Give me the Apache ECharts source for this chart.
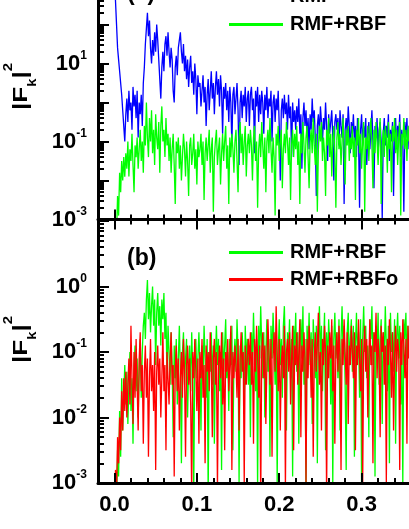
<!DOCTYPE html>
<html>
<head>
<meta charset="utf-8">
<title>|Fk|^2 spectra</title>
<script src="https://cdn.jsdelivr.net/npm/echarts@6.0.0/dist/echarts.min.js"></script>
<style>
    html, body { margin: 0; padding: 0; background: #fff; }
    #main { width: 409px; height: 529px; }
</style>
</head>
<body>
<div id="main"></div>
<script type="text/javascript">
    // sampling step of the frequency axis
    var freqStep = 0.00125;

    // log10 |F_k|^2, panel (a)
    var rmfA = [3.2, 2.6, 2.0, 1.4, 1.1, 0.8, 0.5, 0.2, -0.2, -0.6, -1.0,
        -0.3, 0.1, -0.5, 0.3, -0.2, 0.0, -0.7, 0.4, -0.1, 0.2, -0.4, 0.3, -0.9, 0.0, -0.3, 0.2, -0.6, 0.5,
        0.9, 1.5, 1.9, 2.3, 1.7, 2.1, 1.4, 1.0, 1.6, 1.2, 1.8, 1.3, 2.0, 1.6, 1.1, 0.6, 0.1, 0.9, 1.3, 0.8, 1.5, 1.7, 1.2, 1.8,
        1.3, 0.9, 1.4, 1.1, 0.3, 0.0, 0.9, 1.2, 0.7, 1.4, 1.6, 1.8, 1.3, 1.0, 1.5, 0.8, 1.2, 0.6, 1.1, 0.4,
        0.9, 1.2, 0.5, 0.8, 0.2, 1.0, 0.6, -0.3, 0.7, 0.4,
        0.5, -0.1, 0.3, 0.7, 0.0, 0.4, -0.6, 0.2, 0.6, -0.2, 0.3, 0.8, 0.1, 0.5, -0.3, 0.4, 0.8, 0.2, 0.6, -0.1,
        0.7, 0.3, -0.8, 0.4, 0.1, 0.5, -0.2, 0.3, -0.5, 0.4, 0.0, -1.1, 0.2, 0.4, -0.3, 0.1, 0.5, -0.2, -1.6, 0.0,
        0.3, -0.4, 0.2, -0.1, 0.4, -0.5, 0.1, 0.3,
        -0.6, 0.2, 0.4, -0.2, 0.1, -1.3, 0.3, -0.1, 0.4, -0.5, 0.2, -0.3, 0.3, 0.0, -0.8, 0.2, -0.2, 0.4, -0.4, 0.1,
        -0.1, 0.3, -1.0, 0.0, 0.2, -0.5, 0.1, -0.2, 0.3, -0.6, -2.0, -0.2, 0.1, -0.4, 0.2, -0.3, 0.0, -0.7, 0.2, -0.4,
        -0.1, -1.4, 0.0, -0.5, -0.2,
        -0.7, -0.1, -0.5, 0.1, -0.8, -0.3, -1.7, -0.4, 0.0, -0.6, -0.2, -0.9, -0.4, -1.2, -0.3, -0.7, 0.1, -0.5, -0.2, -0.9,
        -2.4, -0.6, -0.3, -0.8, -0.1, -0.5, -1.0, -0.4, -0.7, 0.0, -0.6, -1.5, -0.3, -0.8, -0.5, -0.2, -0.9, -2.0, -0.5, -0.3,
        -0.7, -0.4, -1.1, -0.2, -0.6, -0.9, -0.3, -2.6, -0.7, -0.4, -0.8, -0.1, -0.6, -1.3, -0.5,
        -0.8, -0.3, -1.0, -0.6, -1.4, -0.4, -0.9, -2.7, -0.7, -0.3, -1.1, -0.6, -0.9, -0.4, -1.6, -0.8, -0.5, -1.2, -0.7, -0.2,
        -1.0, -2.2, -0.6, -0.9, -0.4, -1.3, -0.7, -0.5, -1.0, -3.0, -0.8, -0.4, -1.1, -0.6, -0.9, -0.3, -1.5, -0.7, -1.0, -0.5,
        -2.4, -0.8, -0.4, -1.2, -0.6, -0.9, -0.3, -1.4, -0.7, -1.0, -2.8, -0.5, -0.9, -0.4, -1.2, -0.6, -0.8,
        -0.5, -1.1, -0.4, -0.9, -0.6, -1.3];
    var rbfA = [-3.5, -3.0, -3.4, -2.4, -2.9, -1.8, -2.3, -1.5, -2.0, -1.4, -1.9,
        -1.3, -1.7, -1.0, -1.9, -1.2, -1.5, -0.8, -1.6, -2.3, -1.1, -1.4, -0.9, -1.7, -1.2, -0.7, -1.5, -1.0, -1.8,
        -0.6, -1.1, 0.0, -0.9, -1.4, -0.4, -1.0, -0.2, -1.3, -0.7, -1.6, -0.3, -0.9, -1.2, -0.5, -1.8, -0.6, -0.1, -1.0, -0.7,
        -1.4, -0.4, -1.1, -0.8,
        -1.5, -0.9, -1.8, -1.2, -0.8, -1.6, -2.6, -1.0, -1.3, -0.9, -1.7, -1.1, -2.0, -1.4, -0.8, -1.2, -1.9, -1.0, -1.5, -2.4,
        -1.1, -0.9, -1.6, -1.3, -0.8, -1.7, -1.2, -2.1, -1.0, -1.4,
        -1.2, -0.8, -1.6, -1.0, -2.5, -1.3, -0.9, -1.5, -1.1, -0.7, -1.8, -1.2, -0.9, -2.8, -1.4, -1.0, -0.7, -1.6, -1.2, -0.9,
        -2.1, -1.3, -0.8, -1.5, -1.0, -0.6, -1.7, -1.1, -2.6, -0.9, -1.4, -0.8, -1.2, -1.8, -1.0, -0.7, -1.5, -2.3, -0.9, -0.5,
        -1.3, -0.8, -1.6, -1.0, -0.6, -1.9, -1.1, -0.8,
        -1.3, -0.7, -1.1, -2.0, -0.9, -0.6, -1.5, -1.0, -2.7, -1.2, -0.8, -1.4, -0.5, -1.1, -1.7, -0.9, -2.3, -1.0, -0.7, -1.3,
        -0.4, -1.2, -1.8, -0.9, -1.4, -2.9, -0.8, -1.1, -0.6, -1.5, -1.0, -0.7, -2.2, -1.2, -0.8, -1.3, -0.5, -1.0, -1.6, -0.9,
        -2.5, -1.1, -0.7, -1.4, -0.8,
        -1.2, -0.6, -1.6, -1.0, -2.6, -0.8, -1.3, -0.5, -1.1, -1.8, -0.9, -0.6, -1.4, -2.2, -1.0, -0.7, -1.3, -0.4, -1.1, -1.6,
        -0.8, -2.8, -1.2, -0.6, -1.0, -0.5, -1.5, -0.9, -1.3, -2.4, -0.7, -1.1, -0.4, -1.4, -0.8, -1.9, -1.0, -0.6, -1.3, -2.7,
        -0.9, -0.5, -1.2, -0.8, -1.6, -1.0, -0.4, -1.3, -2.1, -0.7, -1.1, -0.6, -1.5, -0.9, -1.2,
        -0.6, -1.4, -0.9, -2.5, -0.7, -1.1, -0.4, -1.3, -0.8, -1.7, -1.0, -0.5, -2.8, -0.9, -1.2, -0.6, -1.5, -0.8, -0.4, -1.1,
        -2.2, -0.7, -1.3, -0.5, -1.0, -1.6, -0.8, -0.4, -2.6, -1.1, -0.7, -1.4, -0.6, -0.9, -1.8, -0.5, -1.2, -0.8, -2.3, -0.6,
        -1.0, -0.4, -1.3, -0.7, -1.6, -0.9, -0.5, -2.9, -0.8, -1.1, -0.4, -1.2, -0.7, -1.5, -0.6, -1.0, -0.8,
        -1.2, -0.6, -1.9, -0.9, -0.5, -1.3];

    // log10 |F_k|^2, panel (b)
    var rbfB = [-3.5, -3.1, -3.4, -2.5, -2.9, -1.9, -2.6, -1.4, -2.2, -1.7, -1.2,
        -1.8, -1.3, -2.1, -1.5, -1.0, -1.9, -1.4, -2.4, -1.2, -0.9, -1.6, -1.1, -2.0, -1.3, -0.8, -1.7, -1.0, -0.6,
        -0.4, -0.8, -0.2, 0.1, -0.5, -0.1, -0.7, -0.3, 0.0, -0.6, -0.2, -1.2, -0.4, -0.1, -0.6, -0.3, -0.9, -0.2, -0.5, -0.1,
        -0.8, -0.4, -1.4, -0.6,
        -1.0, -1.5, -0.7, -1.2, -2.3, -0.9, -1.4, -0.8, -1.8, -1.1, -0.6, -1.3, -2.7, -1.0, -0.7, -1.5, -1.1, -0.8, -2.0, -1.2,
        -0.9, -1.6, -0.7, -1.3, -3.1, -1.0, -0.8, -1.4, -1.1, -0.7,
        -1.2, -2.2, -0.9, -1.4, -0.6, -1.1, -1.7, -0.8, -3.2, -1.0, -1.3, -0.7, -1.5, -0.9, -2.4, -1.1, -0.6, -1.2, -0.8, -1.6,
        -1.0, -2.8, -0.7, -1.3, -0.9, -0.5, -1.4, -1.0, -1.9, -0.8, -1.2, -0.6, -2.5, -1.1, -0.8, -1.3, -0.5, -1.0, -3.0, -0.9,
        -1.4, -0.7, -1.1, -1.8, -0.6, -1.2, -0.8, -1.5,
        -0.9, -2.3, -0.7, -1.2, -0.4, -1.0, -1.6, -0.8, -3.1, -0.6, -1.1, -0.3, -0.9, -1.4, -0.7, -2.0, -1.0, -0.5, -1.3, -0.8,
        -2.6, -0.6, -1.1, -0.4, -0.9, -1.5, -0.7, -3.0, -1.0, -0.5, -1.2, -0.8, -1.7, -0.6, -0.3, -1.1, -2.2, -0.7, -1.0, -0.5,
        -1.4, -0.8, -2.9, -0.6, -1.0,
        -0.4, -1.3, -0.7, -2.4, -0.9, -0.5, -1.1, -0.3, -1.5, -0.8, -3.2, -0.6, -1.0, -0.4, -1.2, -0.7, -2.1, -0.5, -0.9, -1.4,
        -0.6, -2.7, -0.8, -0.3, -1.1, -0.6, -1.6, -0.9, -0.4, -2.5, -0.7, -1.2, -0.5, -0.9, -1.8, -0.6, -3.0, -0.8, -0.4, -1.1,
        -0.7, -1.4, -0.5, -2.2, -0.8, -0.3, -1.0, -0.6, -1.5, -2.8, -0.7, -0.4, -1.2, -0.8, -0.5,
        -1.3, -0.6, -2.6, -0.9, -0.4, -1.1, -0.7, -1.7, -0.5, -3.1, -0.8, -0.3, -1.0, -0.6, -1.4, -0.9, -2.3, -0.5, -0.8, -0.3,
        -1.2, -0.7, -2.9, -0.6, -1.0, -0.4, -1.5, -0.8, -0.5, -2.1, -0.7, -1.1, -0.3, -0.9, -1.6, -0.6, -2.7, -0.4, -1.0, -0.7,
        -1.3, -0.5, -2.4, -0.8, -0.4, -1.1, -0.6, -1.8, -0.9, -3.0, -0.5, -0.8, -0.4, -1.2, -0.6, -1.0, -0.5,
        -0.9, -1.4, -0.6, -2.2, -0.7, -1.1];
    var rbfoB = [-3.4, -2.8, -3.2, -2.3, -2.7, -2.0, -2.5, -1.6, -2.2, -1.4, -1.9,
        -1.3, -2.0, -1.5, -1.1, -1.8, -0.6, -1.4, -2.1, -1.0, -1.7, -0.8, -1.5, -2.2, -1.1, -0.7, -1.6, -1.2, -2.4,
        -1.3, -0.9, -1.7, -1.1, -2.6, -1.4, -0.8, -1.6, -1.2, -1.9, -1.0, -2.8, -1.3, -0.9, -1.5, -1.1, -2.0, -1.4, -0.7, -1.6,
        -1.2, -2.5, -1.0, -1.4,
        -1.8, -1.1, -0.7, -1.5, -1.2, -2.9, -1.3, -0.9, -1.6, -1.1, -2.2, -1.4, -1.0, -1.7, -0.8, -1.3, -2.6, -1.2, -0.9, -1.5,
        -1.1, -1.8, -3.2, -1.0, -1.4, -0.8, -1.3, -1.9, -1.1, -2.4,
        -1.0, -1.4, -0.8, -1.7, -1.2, -2.7, -0.9, -1.3, -1.0, -1.6, -0.7, -1.2, -2.3, -1.1, -0.8, -1.5, -1.0, -3.1, -1.2, -0.9,
        -1.4, -0.7, -1.8, -1.1, -2.5, -1.0, -1.3, -0.8, -1.6, -1.2, -0.6, -2.8, -1.0, -1.4, -0.9, -1.2, -1.7, -0.8, -2.2, -1.1,
        -0.7, -1.3, -1.0, -3.0, -0.9, -1.5, -1.1, -0.8,
        -1.2, -0.7, -1.5, -1.0, -2.4, -0.8, -1.3, -0.6, -1.1, -1.7, -0.9, -3.3, -1.0, -0.7, -1.4, -0.9, -2.1, -1.2, -0.5, -1.0,
        -1.5, -0.8, -2.6, -1.1, -0.7, -1.3, -0.3, -1.0, -1.6, -0.8, -2.2, -1.2, -0.9, -1.4, -0.6, -3.1, -1.0, -0.8, -1.3, -0.7,
        -1.8, -1.1, -0.6, -2.5, -0.9,
        -1.2, -0.7, -1.5, -1.0, -0.5, -2.3, -0.9, -1.3, -0.7, -1.1, -3.0, -0.8, -1.4, -0.6, -1.0, -1.7, -0.8, -2.6, -1.1, -0.7,
        -1.3, -0.9, -0.4, -1.5, -1.0, -2.2, -0.8, -1.2, -0.6, -1.0, -3.2, -0.9, -1.4, -0.7, -1.1, -0.5, -1.6, -0.9, -2.4, -1.0,
        -0.7, -1.3, -0.6, -1.1, -2.8, -0.8, -1.2, -0.5, -1.0, -1.5, -0.7, -2.1, -0.9, -1.2, -0.6,
        -1.0, -1.4, -0.7, -2.5, -0.9, -1.2, -0.5, -1.1, -1.6, -0.8, -3.1, -1.0, -0.6, -1.3, -0.8, -2.0, -1.1, -0.5, -1.2, -0.9,
        -2.7, -0.7, -1.0, -0.4, -1.4, -0.8, -1.1, -2.3, -0.6, -1.0, -0.7, -1.5, -0.9, -3.0, -0.8, -1.2, -0.5, -1.0, -1.7, -0.7,
        -2.2, -1.1, -0.6, -1.3, -0.8, -1.0, -2.8, -0.7, -1.2, -0.5, -0.9, -1.4, -0.8, -2.4, -0.6, -1.1, -0.9,
        -1.3, -0.7, -2.0, -1.0, -0.6, -1.2];

    var xTickValues = [0, 0.1, 0.2, 0.3, 0.4];
    var decadesA = [1e-3, 1e-2, 1e-1, 1e0, 1e1, 1e2, 1e3];
    var labelsA = [1e-3, 1e-1, 1e1];
    var decadesB = [1e-3, 1e-2, 1e-1, 1e0, 1e1];
    var labelsB = [1e-3, 1e-2, 1e-1, 1e0];

    var FONT = '"Liberation Sans", Arial, sans-serif';

    function toPoints(arr) {
        return arr.map(function (e, i) {
            return [i * freqStep, Math.pow(10, e)];
        });
    }

    // 2..9 x 10^k between the decades
    function minorLog(decades) {
        var out = [];
        for (var i = 0; i < decades.length - 1; i++) {
            for (var m = 2; m < 10; m++) out.push(m * decades[i]);
        }
        return out;
    }

    function logLabel(v) {
        return '{b|10}{s|' + Math.round(Math.log10(v)) + '}';
    }

    var labelRich = {
        b: { fontSize: 22, fontWeight: 'bold', fontFamily: FONT, color: '#000', lineHeight: 28 },
        s: { fontSize: 12, fontWeight: 'bold', fontFamily: FONT, color: '#000', lineHeight: 14, verticalAlign: 'top' }
    };

    function xBase(grid, extra) {
        var a = {
            type: 'value', gridIndex: grid, min: -0.02, max: 0.4, position: 'bottom', z: 10,
            splitLine: { show: false },
            axisLine: { show: false, onZero: false, lineStyle: { color: '#000', width: 3 } },
            axisTick: { show: false },
            axisLabel: { show: false }
        };
        return Object.assign(a, extra);
    }

    function yBase(grid, max, extra) {
        var a = {
            type: 'log', logBase: 10, gridIndex: grid, min: 1e-3, max: max, position: 'left', z: 10,
            splitLine: { show: false },
            axisLine: { show: false, onZero: false, lineStyle: { color: '#000', width: 3 } },
            axisTick: { show: false },
            axisLabel: { show: false }
        };
        return Object.assign(a, extra);
    }

    var tickStyle = { color: '#000', width: 2 };

    var myChart = echarts.init(document.getElementById('main'), null, { renderer: 'canvas' });

    var option = {
        animation: false,
        backgroundColor: '#fff',
        grid: [
            { left: 98, width: 346, top: -14.5, height: 234, outerBoundsMode: 'none', containLabel: false },
            { left: 98, width: 346, top: 221, height: 262, outerBoundsMode: 'none', containLabel: false }
        ],
        xAxis: [
            xBase(0, { axisLine: { show: true, onZero: false, lineStyle: { color: '#000', width: 3 } } }),
            xBase(0, { offset: 5, interval: 0.02, axisTick: { show: true, inside: true, length: 10, lineStyle: tickStyle } }),
            xBase(0, { offset: 10, axisTick: { show: true, inside: true, length: 20, customValues: xTickValues, lineStyle: tickStyle } }),
            xBase(1, {
                axisLine: { show: true, onZero: false, lineStyle: { color: '#000', width: 3 } },
                axisTick: { show: true, inside: true, length: 10, customValues: xTickValues, lineStyle: tickStyle },
                axisLabel: {
                    show: true, customValues: xTickValues, margin: 11,
                    fontSize: 22, fontWeight: 'bold', fontFamily: FONT, color: '#000',
                    formatter: function (v) { return v.toFixed(1); }
                }
            }),
            xBase(1, { interval: 0.02, axisTick: { show: true, inside: true, length: 5, lineStyle: tickStyle } })
        ],
        yAxis: [
            yBase(0, 1e3, {
                axisLine: { show: true, onZero: false, lineStyle: { color: '#000', width: 3 } },
                axisTick: { show: true, inside: true, length: 11, customValues: decadesA, lineStyle: tickStyle },
                axisLabel: { show: true, customValues: labelsA, margin: 11, formatter: logLabel, rich: labelRich }
            }),
            yBase(0, 1e3, { axisTick: { show: true, inside: true, length: 6, customValues: minorLog(decadesA), lineStyle: tickStyle } }),
            yBase(1, 1e1, {
                axisLine: { show: true, onZero: false, lineStyle: { color: '#000', width: 3 } },
                axisTick: { show: true, inside: true, length: 11, customValues: decadesB, lineStyle: tickStyle },
                axisLabel: { show: true, customValues: labelsB, margin: 11, formatter: logLabel, rich: labelRich }
            }),
            yBase(1, 1e1, { axisTick: { show: true, inside: true, length: 6, customValues: minorLog(decadesB), lineStyle: tickStyle } })
        ],
        legend: [{
            data: ['RMF', 'RMF+RBF'],
            orient: 'vertical', left: 229, top: -13.5, padding: 0, itemGap: 8,
            itemWidth: 54, itemHeight: 3, icon: 'rect', selectedMode: false,
            textStyle: { fontSize: 20, fontWeight: 'bold', fontFamily: FONT, color: '#000', lineHeight: 20, padding: [0, 0, 0, 2] }
        }, {
            data: ['RMF+RBF', 'RMF+RBFo'],
            orient: 'vertical', left: 229, top: 242.5, padding: 0, itemGap: 7,
            itemWidth: 54, itemHeight: 3, icon: 'rect', selectedMode: false,
            textStyle: { fontSize: 20, fontWeight: 'bold', fontFamily: FONT, color: '#000', lineHeight: 20, padding: [0, 0, 0, 2] }
        }],
        graphic: [
            fkTitle(110),
            fkTitle(363),
            { type: 'text', x: 127, y: -6, z: 20, style: { text: '(a)', font: 'bold 23px ' + FONT, fill: '#000', verticalAlign: 'middle' } },
            { type: 'text', x: 127, y: 259, z: 20, style: { text: '(b)', font: 'bold 23px ' + FONT, fill: '#000', verticalAlign: 'middle' } }
        ],
        series: [
            { name: 'RMF', type: 'line', xAxisIndex: 0, yAxisIndex: 0, data: toPoints(rmfA), color: '#0000ff' },
            { name: 'RMF+RBF', type: 'line', xAxisIndex: 0, yAxisIndex: 0, data: toPoints(rbfA), color: '#00ff00' },
            { name: 'RMF+RBF', type: 'line', xAxisIndex: 3, yAxisIndex: 2, data: toPoints(rbfB), color: '#00ff00' },
            { name: 'RMF+RBFo', type: 'line', xAxisIndex: 3, yAxisIndex: 2, data: toPoints(rbfoB), color: '#ff0000' }
        ].map(function (s) {
            s.showSymbol = false;
            s.symbol = 'none';
            s.clip = true;
            s.sampling = null;
            s.lineStyle = { width: 1.3, color: s.color };
            s.itemStyle = { color: s.color };
            return s;
        })
    };

    // |F_k|^2 written along the axis, bottom to top
    function fkTitle(y0) {
        var big = 'bold 21px ' + FONT, small = 'bold 12px ' + FONT;
        return {
            type: 'group', x: 28, y: y0, rotation: Math.PI / 2, scaleX: 1.24, z: 20,
            children: [
                { type: 'text', x: 0, y: -7, style: { text: '|F', font: big, fill: '#000', verticalAlign: 'middle' } },
                { type: 'text', x: 18.7, y: 5, style: { text: 'k', font: small, fill: '#000', verticalAlign: 'middle' } },
                { type: 'text', x: 25.4, y: -7, style: { text: '|', font: big, fill: '#000', verticalAlign: 'middle' } },
                { type: 'text', x: 31.3, y: -19, style: { text: '2', font: small, fill: '#000', verticalAlign: 'middle' } }
            ]
        };
    }

    myChart.setOption(option);
</script>
</body>
</html>
